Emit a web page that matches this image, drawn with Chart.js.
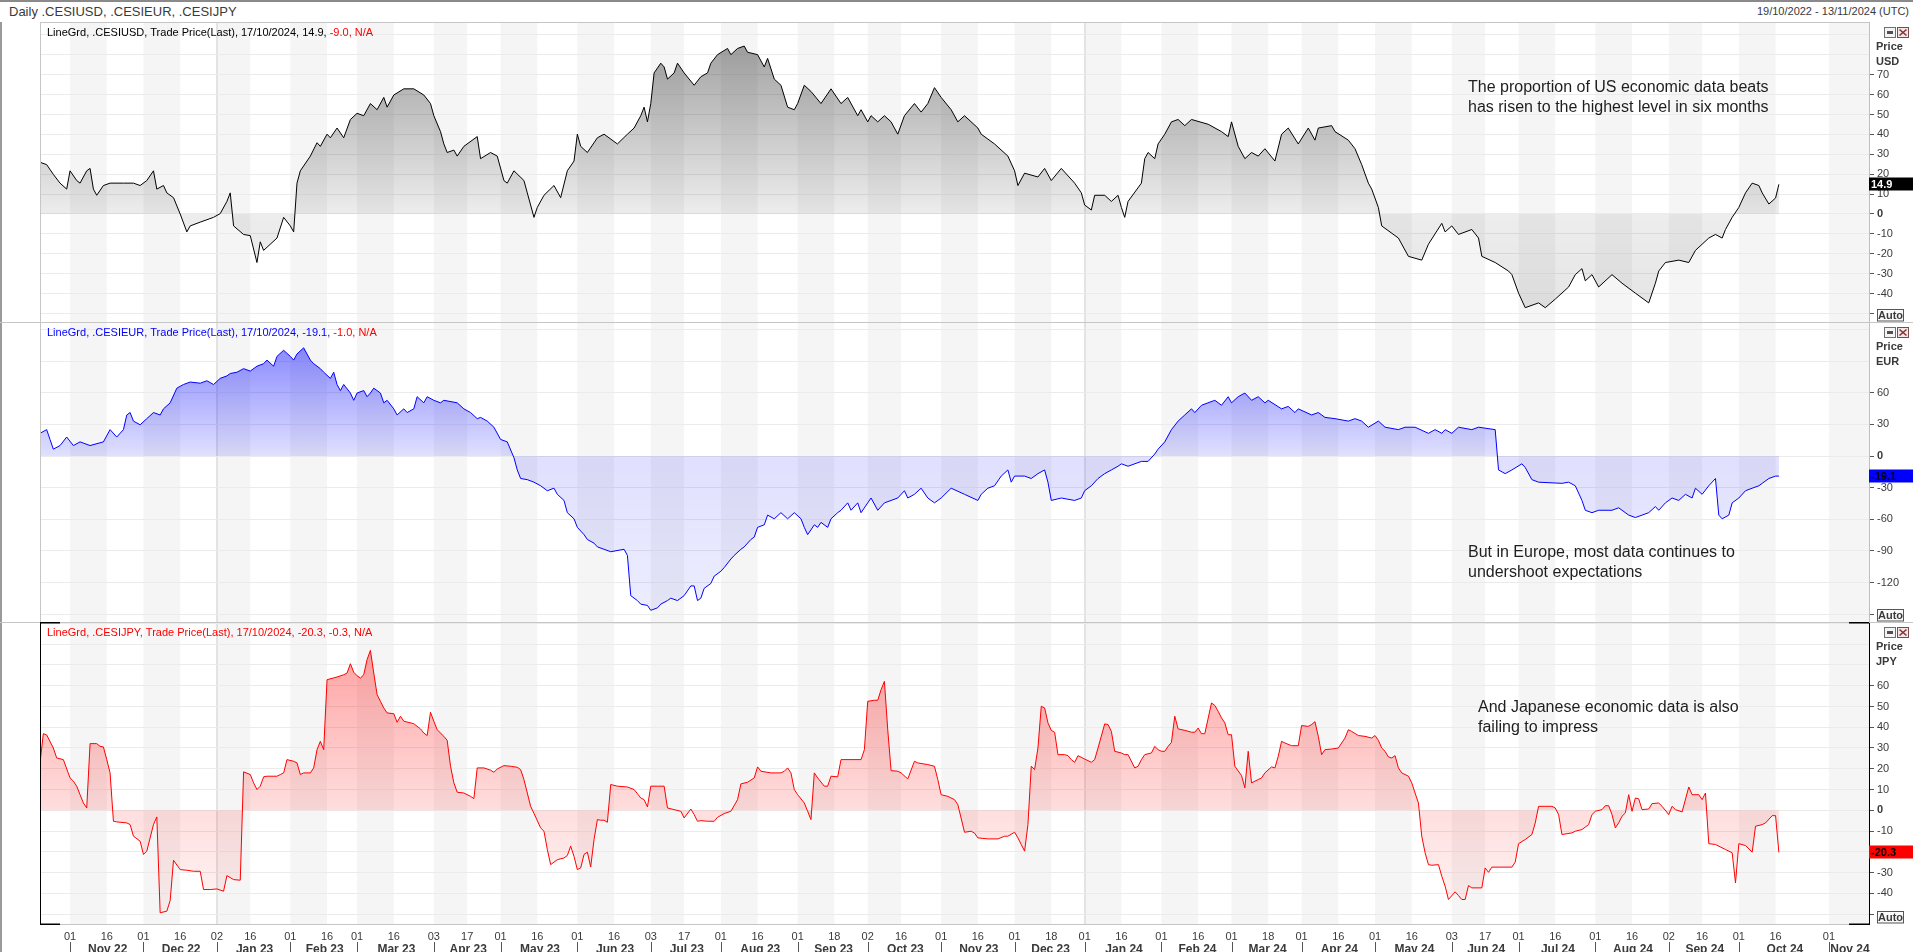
<!DOCTYPE html>
<html>
<head>
<meta charset="utf-8">
<script src="https://cdn.jsdelivr.net/npm/chart.js@4.4.1/dist/chart.umd.min.js"></script>
<style>
  html,body{margin:0;padding:0;background:#fff;}
  body{width:1913px;height:952px;overflow:hidden;position:relative;font-family:"Liberation Sans",Arial,sans-serif;}
  canvas{position:absolute;left:0;}
  .hdr{position:absolute;color:#3a3a3a;white-space:nowrap;}
  #frameTop{position:absolute;left:0;top:0;width:1913px;height:2px;background:#8a8a8a;}
  #frameLeft{position:absolute;left:0;top:22px;width:2px;height:930px;background:#9a9a9a;}
</style>
</head>
<body>
<div id="frameTop"></div>
<div id="frameLeft"></div>
<div class="hdr" style="left:9px;top:4px;font-size:13px;">Daily .CESIUSD, .CESIEUR, .CESIJPY</div>
<div class="hdr" style="right:4px;top:5px;font-size:11px;">19/10/2022 - 13/11/2024 (UTC)</div>
<canvas id="c1" width="1913" height="300" style="top:22px"></canvas>
<canvas id="c2" width="1913" height="300" style="top:322px"></canvas>
<canvas id="c3" width="1913" height="330" style="top:622px"></canvas>
<script>
// ---------------- DATA ----------------
// x = trading-day index counted from 19/10/2022 (weekdays up to 17/10/2024, calendar days after)
const FIRST_DATE = '2022-10-19', LAST_DATA_DATE = '2024-10-17', AXIS_END_DATE = '2024-11-13';

const usdDay = [0,2,4,6,8,9,11,12,14,15,16,17,19,21,25,28,30,32,34,35,37,38,40,42,44,45,48,52,54,56,57,58,61,63,65,66,67,71,73,75,76,77,78,81,83,84,86,87,89,91,93,95,97,99,101,103,104,106,109,112,115,117,118,120,121,122,124,125,127,131,132,135,137,139,140,142,145,146,148,149,151,154,156,158,160,161,162,164,167,169,173,176,178,180,181,182,183,184,186,187,188,190,191,193,196,198,200,201,203,206,207,209,211,212,215,217,218,220,222,224,226,227,229,231,234,237,240,242,245,246,248,249,251,253,255,257,259,262,264,266,268,270,273,275,277,281,282,286,290,292,293,295,299,301,303,306,310,312,313,315,316,319,321,323,324,325,326,330,331,332,334,335,337,339,341,343,345,350,354,356,357,359,361,363,365,367,370,372,374,377,380,382,383,387,388,392,394,396,398,399,401,402,407,410,414,416,420,421,423,425,429,431,432,436,440,441,443,445,449,451,454,458,460,462,463,465,467,471,474,478,482,484,485,487,491,494,496,500,502,504,505,507,509,511,513,515,516,518,520,521];
const usdVal = [26,24.8,19.9,15.5,12.5,21.7,16.8,15.5,21.7,22.9,12.5,9.4,14.3,15.5,15.5,15.5,14.3,16.8,21.7,12.5,14.3,10.6,8.2,0,-9,-6,-4.1,-1.7,0.2,6.3,10.6,-6,-10.3,-10.9,-24.4,-14,-18.3,-12.1,-1.7,-6,-9,15.5,21.7,29.1,35.8,34,40.1,38.3,43.2,38.3,47.5,50.6,49.4,55.5,52.4,58.6,53.7,59.8,62.9,62.9,59.8,55.5,49.4,41.4,35.2,30.9,32.1,29.1,34,38.9,27.8,30.9,29.1,16.8,15.5,21.7,16.8,10.6,-1.7,3.3,9.4,14.3,8.2,21.7,26.6,40.1,34,30.9,38.3,40.1,35.2,40.1,43.2,49.4,53.7,46.3,55.5,70.9,75.8,73.9,67.8,70.9,75.8,70.9,64.7,69,70.9,75.8,80.1,83.2,80.1,83.2,84.4,81.3,80.1,73.9,78.2,67.8,64.7,53.7,52.4,55.5,64.7,61.6,55.5,62.9,55.5,58.6,49.4,52.4,46.3,49.4,46.3,49.4,46.3,40.1,49.4,55.5,51.2,55.5,63.5,58.6,52.4,46.3,49.4,43.2,40.1,35.2,29.1,21.7,14.3,20.5,18.6,22.9,16.8,22.9,15.5,10.6,4.5,2,9.4,9.4,6.3,9.4,3.3,-1.7,6.3,15.5,27.8,30.9,27.8,35.2,40.1,46.3,47.5,44.4,47.5,45.1,41.4,38.9,46.3,34,27.8,30.9,29.1,32.8,26.6,40.1,43.2,35.2,43.2,37.1,43.2,44.4,41.4,37.1,32.8,24.8,15.5,12.5,3.3,-6,-12.1,-21.3,-23.2,-15.2,-4.7,-9,-6,-10.3,-7.8,-12.1,-21.3,-24.4,-28.7,-30.5,-39.8,-47.1,-44.7,-47.1,-42.8,-36.7,-30.5,-27.5,-33.6,-30.5,-36.7,-30.5,-34.8,-39.8,-44.7,-34.8,-28.7,-24.4,-23.2,-24.4,-18.3,-12.1,-10.3,-12.1,-7.8,-1.7,3.3,10.6,15.5,14.3,10.6,5,8,14.9];

const eurDay = [0,2,3,4,6,8,10,12,15,19,21,23,25,26,27,28,30,32,34,36,37,39,41,43,45,48,50,52,54,56,57,59,61,63,65,67,68,70,71,73,75,76,77,79,80,81,82,84,85,87,88,89,90,91,93,94,95,97,98,99,100,102,103,104,106,107,109,110,112,113,115,116,118,120,121,125,127,129,131,132,134,136,138,140,142,143,144,146,148,150,152,154,155,157,158,160,161,163,164,166,167,169,171,175,176,177,179,180,182,183,185,186,188,189,191,193,195,196,197,198,199,201,202,204,205,207,208,210,211,213,214,215,217,218,220,222,224,226,228,229,230,232,233,234,236,237,239,240,242,243,245,246,248,249,251,253,257,259,260,262,264,266,268,270,273,277,281,282,284,286,288,290,291,292,295,297,299,301,302,303,306,310,312,313,315,317,319,321,323,324,326,330,332,334,335,337,339,341,343,345,346,348,352,354,356,357,359,361,363,365,367,368,372,374,376,377,381,383,385,388,392,394,396,398,401,403,407,409,412,416,418,420,421,423,425,429,431,436,437,439,441,444,445,447,449,456,458,460,462,463,465,467,471,473,476,478,482,484,485,487,489,491,493,495,496,498,500,502,503,504,506,507,509,511,513,515,516,518,520,521];
const eurVal = [21.5,25,15.7,6.5,9.9,18,9.9,13.4,9.9,13.4,25,18,25,38.9,41.2,33.1,29.6,35.4,41.2,38.9,44.7,50.4,64.3,67.8,70.1,69,71.3,67.8,73.6,75.9,78.2,79.4,82.8,80.5,85.1,87.5,90.9,85.1,94.4,100.2,94.4,90.9,96.7,102.5,96.7,90.9,87.5,82.8,79.4,73.6,79.4,67.8,62,67.8,59.7,52.8,59.7,62,56.2,59.7,64.3,59.7,50.4,52.8,44.7,38.9,44.7,41.2,44.7,56.2,50.4,56.2,52.8,50.4,52.8,50.4,44.7,41.2,35.4,36.6,33.1,27.3,15.7,13.4,-1.6,-13.2,-21.3,-22.4,-24.8,-28.2,-32.9,-30.5,-36.3,-42.1,-53.7,-59.5,-67.6,-74.5,-79.1,-82.6,-86.1,-88.4,-90.7,-88.4,-94.2,-132.3,-137,-140.4,-141.6,-146.2,-143.9,-140.4,-137,-134.7,-137,-132.3,-123.1,-123.1,-137,-134.7,-125.4,-120.8,-113.8,-109.2,-105.7,-97.6,-94.2,-88.4,-86.1,-79.1,-76.8,-67.6,-65.2,-56,-59.5,-53.7,-59.5,-53.7,-59.5,-67.6,-74.5,-65.2,-67.6,-62.9,-67.6,-59.5,-53.7,-51.4,-44.4,-51.4,-44.4,-53.7,-44.4,-39.8,-51.4,-44.4,-39.8,-32.9,-39.8,-36.3,-30.5,-39.8,-44.4,-39.8,-30.5,-36.3,-42.1,-36.3,-30.5,-28.2,-19,-13.2,-24.8,-19,-19,-21.3,-16.7,-13.2,-24.8,-42.1,-39.8,-42.1,-39.8,-32.9,-28.2,-21.3,-16.7,-13.2,-9.7,-7.4,-9.7,-5.1,-5.1,1.9,6.5,13.4,25,33.1,38.9,44.7,41.2,48.1,52.8,48.1,56.2,50.4,56.2,59.7,52.8,56.2,50.4,52.8,44.7,47,41.2,44.7,38.9,41.2,36.6,35.4,33.1,35.4,33.1,27.3,33.1,27.3,25,27.3,27.3,21.5,25,21.5,25,21.5,27.3,25,27.3,25,-13.2,-16.7,-13.2,-7.4,-10.9,-22.4,-24.8,-25.9,-24.8,-28.2,-42.1,-51.4,-53.7,-51.4,-51.4,-49.1,-56,-58.3,-53.7,-47.9,-51.4,-44.4,-39.8,-42.1,-36.3,-39.8,-30.5,-36.3,-28.2,-21.3,-56,-59.5,-56,-44.4,-39.8,-32.9,-30.5,-28.2,-25.9,-21.3,-19,-19.1];

const jpyDay = [0,1,2,4,5,7,9,10,11,12,13,14,15,17,18,19,20,21,22,23,26,27,28,30,31,32,33,34,35,36,38,39,40,42,44,46,48,49,51,53,55,56,58,60,61,63,64,65,66,67,68,71,72,73,74,76,77,78,79,81,82,83,84,85,86,89,91,92,93,94,95,96,97,98,99,100,101,102,103,104,106,107,108,109,112,114,115,116,117,118,119,121,122,123,124,125,127,129,130,131,133,135,136,137,139,141,143,144,145,147,148,150,151,152,153,154,155,157,158,159,160,161,162,163,164,165,166,167,168,169,170,171,173,176,178,179,180,181,182,183,185,187,188,190,192,193,195,196,197,198,200,202,203,205,207,209,210,212,214,215,216,219,222,223,224,225,226,227,229,230,231,232,233,235,236,237,239,240,243,246,247,248,250,251,252,253,254,255,257,258,260,262,263,266,268,269,270,272,274,275,277,279,280,281,284,287,289,290,292,293,294,295,296,297,298,299,300,301,302,303,304,305,307,308,309,310,311,313,315,316,317,319,320,321,322,324,325,326,328,329,330,331,333,334,335,336,337,338,339,340,341,343,345,346,347,348,349,351,352,353,354,355,356,357,358,360,361,362,363,365,366,367,369,370,371,372,373,375,377,378,380,381,382,383,384,385,387,389,391,392,393,395,397,399,400,401,402,403,404,405,406,407,408,410,411,412,413,414,415,416,417,419,420,421,422,424,425,426,427,428,429,432,433,434,435,438,441,442,443,445,447,448,449,451,453,454,455,456,459,460,462,464,465,466,468,469,470,471,472,473,474,475,476,477,478,479,480,482,483,485,486,488,489,490,492,494,495,497,498,499,500,502,505,507,508,509,511,513,514,516,517,519,520,521];
const jpyVal = [22.8,36.9,36.3,30,25.2,24.4,15.6,14,11.6,7.5,3.5,1.1,32.1,32.1,30.8,30.5,24.4,18,-5.3,-5.6,-6.1,-6.9,-12.5,-14.9,-21.3,-19.7,-13.3,-6.9,-3.2,-49.4,-48.6,-43.5,-24.1,-28.6,-28.9,-29.4,-29.4,-38.2,-38.2,-37.9,-39,-31.5,-33.4,-33.7,18.5,17.2,13.2,10,11.6,16.1,16.4,16.4,17.2,18,24.4,23.6,22.8,17.2,18,18,20.4,29.2,33.2,29.2,62.9,64.2,65.3,66.1,70.6,66.5,64.8,63.7,65.3,72.6,77,66.1,55.7,52.5,49.3,46.9,46.5,42.4,45.3,42.9,41.7,39.2,37.2,36,47.2,42.9,38.8,35.6,33.7,21.2,13.2,8.7,8.3,6.7,5.6,20.4,20.4,19.3,18.3,19.9,21.5,21.2,20.7,19.6,14.8,1.9,-1.5,-8.5,-10.1,-18.9,-26.2,-25,-23.8,-23,-21.8,-17.3,-22.2,-28.6,-27.8,-21.3,-20.2,-27.3,-14.1,-4.5,-4.8,-4.8,-5.8,12.4,11.6,11.2,10,8,5.9,5.1,1.6,11.6,11.6,11.6,1.1,0.3,-0.5,-3.7,0.6,-2.1,-5.3,-5,-5.3,-5.3,-3.4,-1.6,-0.5,5.1,12.7,13.5,15.6,20.9,18.8,18,18,18.8,20.4,18,10,7.5,3.5,-0.5,-4.5,18,15.6,11.6,11.6,16.4,16.1,24.4,24.4,24.4,29.2,52.5,53,53,58.1,62.1,38.8,19.1,18.8,18,15.1,23.6,22.8,22,21.2,14.8,7.5,6.7,5.1,2.7,-10.6,-10.1,-11,-13.3,-13.8,-13.8,-12.5,-12.5,-10.6,-13.3,-16.5,-19.7,-6.9,21.2,19.6,30,50.1,49.3,42.1,38.5,37.6,26.8,26.8,26.3,24.4,23.1,26.3,24.7,23.1,24.4,30,41.6,41.3,38,28.4,27.6,26.8,26.8,20.4,21.2,24.4,26.8,27.6,30.8,29.2,28.4,28.4,30.8,32.7,45.3,39.2,38.5,37.6,37.6,39.6,36.9,36.9,51.7,50.5,47.7,44.5,42.1,36.4,36.4,21.2,16.7,10.8,28.4,13.2,14.8,15.6,18,20.9,20.4,26,33.2,32.4,31.1,31.1,40.8,40.4,41.3,42.7,35.6,26.8,29.2,29.5,30,34.8,38.8,38,36,35.6,34.8,36,33.7,30,28.4,25.7,25.2,26.3,20.4,18,16.4,13.2,8.3,3.5,-12.5,-20.5,-26.2,-26.5,-26.2,-31.8,-36.6,-43,-39.3,-41.1,-43,-43,-36.3,-37.4,-37.4,-27.8,-29.9,-27.4,-27.4,-27.4,-25,-16.1,-14.1,-11.7,-6.1,1.9,1.9,1.9,1.1,-2.1,-11.7,-10.9,-10.1,-9.3,-6.9,-2.1,-0.5,0.3,2.2,2.2,-2.1,-8.5,-6.1,-2.9,-1.3,7.5,-0.5,5.9,5.5,0.3,0.6,3.2,3.5,1.9,-2.1,1.9,0.3,-0.8,11.2,7.5,7.5,5.1,8.3,-16.1,-16.5,-18.9,-20.5,-35,-16.1,-17,-20.2,-7.7,-6.9,-6.1,-2.6,-2.6,-20.3];

const tickDates = ["2022-11-01","2022-11-16","2022-12-01","2022-12-16","2023-01-02","2023-01-16","2023-02-01","2023-02-16","2023-03-01","2023-03-16","2023-04-03","2023-04-17","2023-05-01","2023-05-16","2023-06-01","2023-06-16","2023-07-03","2023-07-17","2023-08-01","2023-08-16","2023-09-01","2023-09-18","2023-10-02","2023-10-16","2023-11-01","2023-11-16","2023-12-01","2023-12-18","2024-01-01","2024-01-16","2024-02-01","2024-02-16","2024-03-01","2024-03-18","2024-04-01","2024-04-16","2024-05-01","2024-05-16","2024-06-03","2024-06-17","2024-07-01","2024-07-16","2024-08-01","2024-08-16","2024-09-02","2024-09-16","2024-10-01","2024-10-16","2024-11-01"];
const monthNames = ["Jan","Feb","Mar","Apr","May","Jun","Jul","Aug","Sep","Oct","Nov","Dec"];

const usdTicks = [-50,-40,-30,-20,-10,0,10,20,30,40,50,60,70,80,90];
const usdLabels = [-40,-30,-20,-10,0,10,20,30,40,50,60,70];
const eurTicks = [-150,-120,-90,-60,-30,0,30,60,90,120];
const eurLabels = [-120,-90,-60,-30,0,30,60];
const jpyTicks = [-50,-40,-30,-20,-10,0,10,20,30,40,50,60,70,80,90];
const jpyLabels = [-40,-30,-20,-10,0,10,20,30,40,50,60];

// ---------------- CALENDAR ----------------
function buildCalendar(){
  const out=[]; const d=new Date(FIRST_DATE+'T00:00:00Z');
  for(;;){
    const s=d.toISOString().slice(0,10), wd=d.getUTCDay();
    if (s>LAST_DATA_DATE || (wd!==0 && wd!==6)) out.push(s);
    if (s===AXIS_END_DATE) break;
    d.setUTCDate(d.getUTCDate()+1);
  }
  return out;
}
const calendar = buildCalendar();
const dayIndex = s => calendar.indexOf(s);
const X_MAX = calendar.length-1;
const tickIdx = tickDates.map(dayIndex);
const months = [];
tickDates.forEach((s,i)=>{
  const ym=s.slice(0,7);
  const last=months[months.length-1];
  if(!last || last.ym!==ym){ months.push({ym, start:tickIdx[i], mid:null, m:+s.slice(5,7)-1, y:s.slice(2,4)}); }
  else last.mid=tickIdx[i];
});

const FONT = '"Liberation Sans", Arial, sans-serif';

// ---------------- PLUGINS ----------------
const bandsPlugin = {
  id:'bands',
  beforeDraw(chart){
    const {ctx, chartArea:a, scales:{x}} = chart;
    ctx.save();
    ctx.fillStyle='#f5f5f5';
    months.forEach(m=>{
      const x1=x.getPixelForValue(m.start);
      const x2= m.mid!=null ? x.getPixelForValue(m.mid) : a.right;
      ctx.fillRect(x1, a.top, x2-x1, a.bottom-a.top);
    });
    ctx.fillStyle='#e3e3e3';
    months.filter(m=>m.m===0).forEach(m=>{
      const px=Math.round(x.getPixelForValue(m.start));
      ctx.fillRect(px-1, a.top, 2, a.bottom-a.top);
    });
    ctx.restore();
  }
};

function drawIcons(ctx, top){
  ctx.save();
  ctx.lineWidth=1;
  ctx.fillStyle='#f4f4f4'; ctx.fillRect(1884.5, top+5.5, 11, 10);
  ctx.strokeStyle='#707070'; ctx.strokeRect(1884.5, top+5.5, 11, 10);
  ctx.fillStyle='#505050'; ctx.fillRect(1887, top+9, 6, 3);
  ctx.fillStyle='#f0e8e8'; ctx.fillRect(1897.5, top+5.5, 11, 10);
  ctx.strokeStyle='#7a4a4a'; ctx.strokeRect(1897.5, top+5.5, 11, 10);
  ctx.strokeStyle='#8a3030'; ctx.lineWidth=1.6;
  ctx.beginPath(); ctx.moveTo(1899.5, top+7.5); ctx.lineTo(1906.5, top+13.5);
  ctx.moveTo(1906.5, top+7.5); ctx.lineTo(1899.5, top+13.5); ctx.stroke();
  ctx.restore();
}

const decorPlugin = {
  id:'decor',
  afterDraw(chart, args, o){
    const {ctx, chartArea:a, scales:{y}} = chart;
    const W = chart.width;
    ctx.save();
    ctx.fillStyle='#c6c6c6';
    if (o.first) ctx.fillRect(a.left, 0, a.right-a.left, 1);
    else ctx.fillRect(0, 0, W, 1);
    ctx.fillStyle = o.selected ? '#000' : '#c6c6c6';
    ctx.fillRect(a.left, a.top, 1, a.bottom-a.top);
    if (o.selected){
      ctx.fillStyle='#c6c6c6'; ctx.fillRect(a.left, a.bottom, a.right-a.left, 1);
      ctx.fillStyle='#000';
      ctx.fillRect(a.left, 0, 20, 1.5); ctx.fillRect(a.right-20, 0, 20, 1.5);
      ctx.fillRect(a.left, a.bottom-0.5, 20, 1.5); ctx.fillRect(a.right-20, a.bottom-0.5, 20, 1.5);
    }
    ctx.font='11px '+FONT; ctx.textBaseline='middle'; ctx.textAlign='left';
    let lx=a.left+7;
    o.legend.forEach(([t,c])=>{ ctx.fillStyle=c; ctx.fillText(t, lx, 10.5); lx+=ctx.measureText(t).width; });
    ctx.font='bold 11px '+FONT; ctx.fillStyle='#3a3a3a';
    ctx.fillText('Price', 1876, 24.5);
    ctx.fillText(o.ccy, 1876, 39.5);
    drawIcons(ctx, 0);
    const ab = a.bottom-12.5;
    ctx.fillStyle='#fafafa'; ctx.fillRect(1877.5, ab, 26, 11.5);
    ctx.strokeStyle='#555'; ctx.lineWidth=1; ctx.strokeRect(1877.5, ab, 26, 11.5);
    ctx.fillStyle='#3a3a3a'; ctx.textAlign='center'; ctx.fillText('Auto', 1890.5, ab+6);
    const vy = y.getPixelForValue(o.last);
    ctx.fillStyle=o.boxBg; ctx.fillRect(a.right, Math.round(vy)-6.5, W-a.right, 13);
    ctx.fillStyle=o.boxFg; ctx.textAlign='left'; ctx.font='bold 11px '+FONT;
    ctx.fillText(o.lastText, a.right+2, Math.round(vy)+0.5);
    ctx.font='16px '+FONT; ctx.fillStyle='#1e1e1e';
    o.note.forEach((t,i)=>ctx.fillText(t, o.noteX, o.noteY+i*19.5));
    if (o.selected){
      const x = chart.scales.x;
      ctx.font='bold 12px '+FONT; ctx.textAlign='center';
      months.forEach((m,i)=>{
        const x1=x.getPixelForValue(m.start);
        const x2= i<months.length-1 ? x.getPixelForValue(months[i+1].start) : a.right;
        ctx.fillStyle='#555'; ctx.fillRect(Math.round(x1), a.bottom+18, 1, 12);
        ctx.fillStyle='#3a3a3a';
        ctx.fillText(monthNames[m.m]+' '+m.y, (x1+x2)/2+1, a.bottom+26);
      });
    }
    ctx.restore();
  }
};

// ---------------- CHARTS ----------------
function makeGradient(color, aTop, aZero, aBot, vTop, vBot){
  return (c)=>{
    const chart=c.chart, ys=chart.scales.y;
    if(!chart.chartArea || !ys) return 'rgba(0,0,0,0)';
    const y0=ys.getPixelForValue(vTop), y1=ys.getPixelForValue(vBot), yz=ys.getPixelForValue(0);
    const g=chart.ctx.createLinearGradient(0,y0,0,y1);
    const t=Math.min(1,Math.max(0,(yz-y0)/(y1-y0)));
    g.addColorStop(0,`rgba(${color},${aTop})`);
    g.addColorStop(t,`rgba(${color},${aZero})`);
    g.addColorStop(1,`rgba(${color},${aBot})`);
    return g;
  };
}

function panel(id, cfg){
  const data = cfg.days.map((d,i)=>({x:d, y:cfg.vals[i]}));
  return new Chart(document.getElementById(id), {
    type:'line',
    data:{datasets:[{
      data, borderColor:cfg.line, borderWidth:1, pointRadius:0, tension:0,
      fill:'origin', backgroundColor: cfg.fill
    }]},
    options:{
      responsive:false, animation:false, events:[],
      layout:{padding:{left:40,right:0,top:0,bottom:0}},
      plugins:{legend:{display:false}, tooltip:{enabled:false}, decor:cfg.decor},
      scales:{
        x:{type:'linear', min:0, max:X_MAX, bounds:'data', display:cfg.showX,
          grid:{display:false, drawTicks:false}, border:{display:false},
          afterBuildTicks:(s)=>{ s.ticks = tickIdx.map(v=>({value:v})); },
          afterFit:(s)=>{ s.height = cfg.showX ? 28 : 0; s.paddingLeft=0; s.paddingRight=0; },
          ticks:{autoSkip:false, maxRotation:0, minRotation:0, padding:6, color:'#3a3a3a',
            font:{family:FONT, size:11},
            callback:(v,i)=> tickDates[i] ? tickDates[i].slice(8,10) : ''}
        },
        y:{type:'linear', position:'right', min:cfg.min, max:cfg.max, bounds:'data',
          afterBuildTicks:(s)=>{ s.ticks = cfg.ticks.map(v=>({value:v})); },
          afterFit:(s)=>{ s.width = 44; s.paddingTop=0; s.paddingBottom=0; },
          grid:{color:'#ebebeb', lineWidth:1, drawTicks:true, tickLength:5,
            tickColor:(c)=> (c.tick && c.tick.value>=cfg.markMin && c.tick.value<=cfg.labels[cfg.labels.length-1]) ? '#555' : 'rgba(0,0,0,0)'},
          border:{display:true, color:cfg.decor.selected?'#000':'#c0c0c0', width:1},
          ticks:{autoSkip:false, padding:3, color:'#3a3a3a',
            font:(c)=>({family:FONT, size:11, weight:(c.tick && c.tick.value===0)?'bold':'normal'}),
            callback:(v)=> cfg.labels.includes(v) ? String(v) : ''}
        }
      }
    },
    plugins:[bandsPlugin, decorPlugin]
  });
}

panel('c1', {days:usdDay, vals:usdVal, line:'#000000', min:-54.3, max:96.5, ticks:usdTicks, labels:usdLabels, markMin:-50, showX:false,
  fill:makeGradient('0,0,0',0.36,0.07,0.10,85,-48),
  decor:{first:true, selected:false, ccy:'USD', last:14.9, lastText:'14.9', boxBg:'#000', boxFg:'#fff',
    legend:[['LineGrd, .CESIUSD, Trade Price(Last), 17/10/2024, 14.9, ','#000'],['-9.0, N/A','#ff0000']],
    note:['The proportion of US economic data beats','has risen to the highest level in six months'], noteX:1468, noteY:66}});

panel('c2', {days:eurDay, vals:eurVal, line:'#0000ff', min:-157.3, max:127, ticks:eurTicks, labels:eurLabels, markMin:-150, showX:false,
  fill:makeGradient('0,0,255',0.46,0.12,0.07,103,-147),
  decor:{first:false, selected:false, ccy:'EUR', last:-19.1, lastText:'-19.1', boxBg:'#0000ff', boxFg:'#000',
    legend:[['LineGrd, .CESIEUR, Trade Price(Last), 17/10/2024, -19.1, ','#0000ff'],['-1.0, N/A','#ff0000']],
    note:['But in Europe, most data continues to','undershoot expectations'], noteX:1468, noteY:231}});

panel('c3', {days:jpyDay, vals:jpyVal, line:'#ff0000', min:-54.8, max:90.7, ticks:jpyTicks, labels:jpyLabels, markMin:-50, showX:true,
  fill:makeGradient('255,0,0',0.36,0.13,0.04,77,-50),
  decor:{first:false, selected:true, ccy:'JPY', last:-20.3, lastText:'-20.3', boxBg:'#ff0000', boxFg:'#000',
    legend:[['LineGrd, .CESIJPY, Trade Price(Last), 17/10/2024, -20.3, -0.3, N/A','#ff0000']],
    note:['And Japanese economic data is also','failing to impress'], noteX:1478, noteY:86}});
</script>
</body>
</html>
